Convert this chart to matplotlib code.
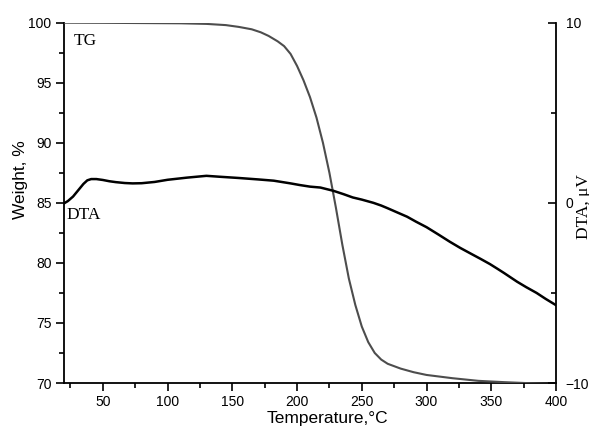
import numpy as np
import matplotlib.pyplot as plt
from matplotlib.ticker import MultipleLocator

# thermogravimetric curve, weight %
tg_temp = [20, 50, 80, 110, 130, 145, 155, 165, 172, 178, 185, 190, 195, 200,
           205, 210, 215, 220, 225, 230, 235, 240, 245, 250, 255, 260, 265,
           270, 280, 290, 300, 320, 340, 360, 380, 400]
tg_weight = [100.0, 99.99, 99.97, 99.95, 99.9, 99.8, 99.65, 99.45, 99.2, 98.9,
             98.45, 98.05, 97.4, 96.4, 95.2, 93.8, 92.1, 90.0, 87.5, 84.6,
             81.5, 78.7, 76.5, 74.7, 73.4, 72.5, 71.95, 71.6, 71.2, 70.9,
             70.67, 70.4, 70.18, 70.07, 69.98, 69.9]

# differential thermal analysis, uV
dta_temp = [20, 23, 27, 31, 35, 38, 41, 45, 50, 55, 60, 67, 73, 80, 90, 100,
            115, 130, 140, 155, 170, 182, 195, 202, 210, 218, 228, 236, 243,
            250, 255, 259, 265, 270, 277, 285, 292, 300, 309, 318, 326, 335,
            342, 349, 355, 360, 365, 370, 377, 385, 392, 400]
dta_uv = [-0.03, 0.1, 0.35, 0.7, 1.05, 1.25, 1.32, 1.32, 1.27, 1.2, 1.15, 1.1,
          1.08, 1.09, 1.16, 1.28, 1.4, 1.5, 1.45, 1.38, 1.3, 1.23, 1.08, 0.99,
          0.9, 0.85, 0.67, 0.48, 0.3, 0.18, 0.08, 0.0, -0.15, -0.3, -0.52,
          -0.77, -1.05, -1.35, -1.75, -2.16, -2.5, -2.85, -3.12, -3.4, -3.67,
          -3.9, -4.14, -4.38, -4.68, -5.0, -5.33, -5.68]

plt.rcParams['font.family'] = ['Liberation Sans', 'DejaVu Sans']

W, H = 589, 430
fig = plt.figure(figsize=(W / 100, H / 100), dpi=100)
ax = fig.add_axes([64 / W, 1 - 383 / H, (556 - 64) / W, (383 - 22.7) / H])
ax2 = ax.twinx()

ax.plot(tg_temp, tg_weight, color='#4d4d4d', lw=1.5, zorder=3)
ax2.plot(dta_temp, dta_uv, color='black', lw=1.8)

ax.set_xlim(20, 400)
ax.set_ylim(70, 100)
ax2.set_ylim(-10, 10)

ax.xaxis.set_major_locator(MultipleLocator(50))
ax.xaxis.set_minor_locator(MultipleLocator(25))
ax.yaxis.set_major_locator(MultipleLocator(5))
ax.yaxis.set_minor_locator(MultipleLocator(2.5))
ax2.yaxis.set_major_locator(MultipleLocator(10))
ax2.yaxis.set_minor_locator(MultipleLocator(5))

for a in (ax, ax2):
    a.spines['top'].set_visible(False)
    for s in a.spines.values():
        s.set_linewidth(1.3)
ax.spines['right'].set_visible(False)
ax2.spines['left'].set_visible(False)
ax2.spines['bottom'].set_visible(False)

ax.tick_params(which='major', direction='out', length=6, width=1.2,
               labelsize=10, pad=3)
ax.tick_params(which='minor', direction='out', length=3.5, width=1.2)
ax2.tick_params(which='major', direction='in', length=6, width=1.2,
                labelsize=10, pad=7)
ax2.tick_params(which='minor', direction='in', length=3.5, width=1.2)
ax.set_xticks([50, 100, 150, 200, 250, 300, 350, 400])

fig.text(327.5 / W, 1 - 419 / H, 'Temperature,\u00b0C', ha='center',
         va='center', fontsize=12.5)
fig.text(21 / W, 1 - 180 / H, 'Weight, %', rotation=90, ha='center',
         va='center', fontsize=12.5)
fig.text(576 / W, 1 - 207 / H, 'DTA, \u03bcV', rotation=90, ha='left',
         va='center', fontsize=12.5, family='Liberation Serif')

fig.text(74 / W, 1 - 45 / H, 'TG', ha='left', va='baseline', fontsize=12.5,
         family='Liberation Serif')
fig.text(66 / W, 1 - 219 / H, 'DTA', ha='left', va='baseline', fontsize=12.5,
         family='Liberation Serif')

fig.savefig('out.png', dpi=100)
